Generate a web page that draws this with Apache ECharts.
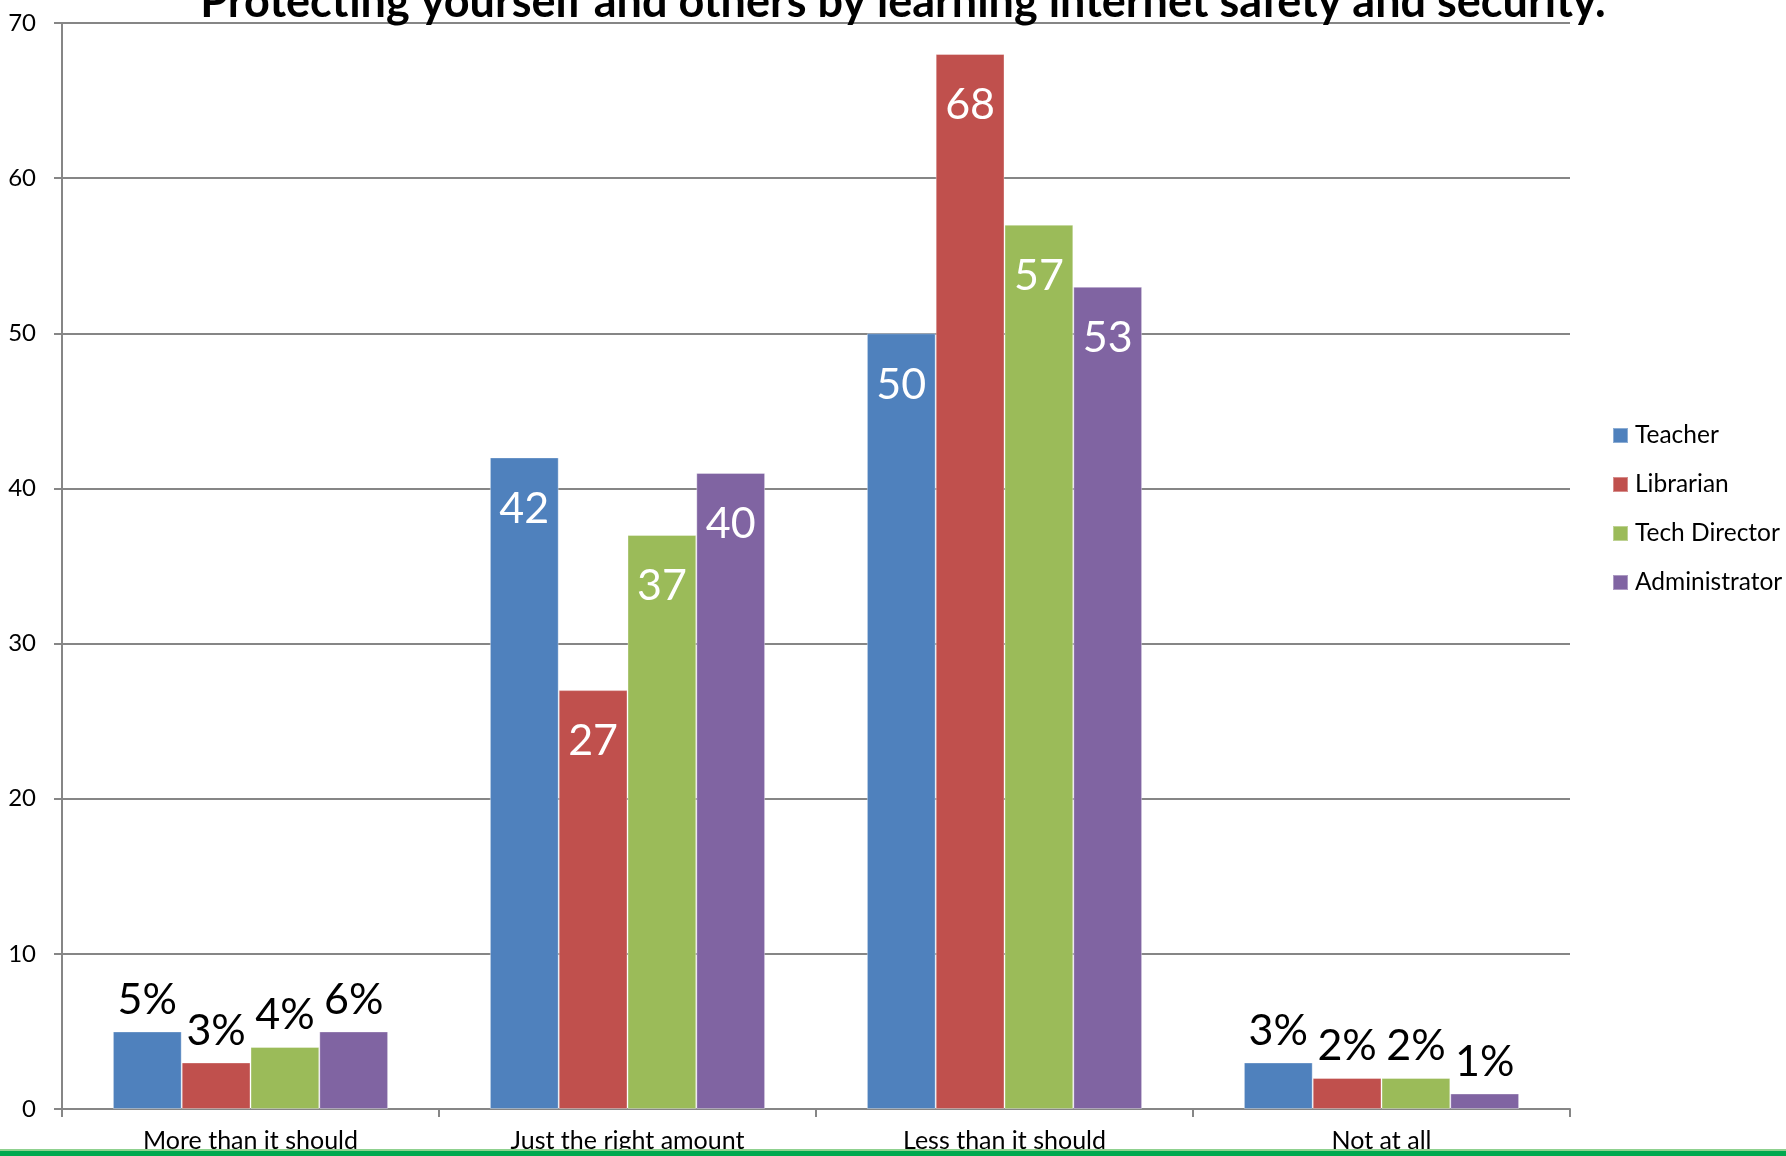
<!DOCTYPE html>
<html>
<head>
<meta charset="utf-8">
<script src="https://cdn.jsdelivr.net/npm/echarts@6/dist/echarts.min.js"></script>
<style>html,body{margin:0;padding:0;background:#fff;}#c{width:1786px;height:1156px;}</style>
</head>
<body>
<div id="c"></div>
<script>
const titleText = 'Protecting yourself and others by learning internet safety and security.';
const categories = ['More than it should', 'Just the right amount', 'Less than it should', 'Not at all'];
const seriesNames = ['Teacher', 'Librarian', 'Tech Director', 'Administrator'];
const teacher = [5, 42, 50, 3];
const librarian = [3, 27, 68, 2];
const techDirector = [4, 37, 57, 2];
const administrator = [5, 41, 53, 1];
const teacherLabels = ['5%', '42', '50', '3%'];
const librarianLabels = ['3%', '27', '68', '2%'];
const techDirectorLabels = ['4%', '37', '57', '2%'];
const administratorLabels = ['6%', '40', '53', '1%'];
const yTicks = [0, 10, 20, 30, 40, 50, 60, 70];

const colors = ['#4f81bd', '#c0504d', '#9bbb59', '#8064a2'];
const FONT = 'Lato, "Open Sans", sans-serif';
const outsideGroups = [0, 3];

function buildData(values, labels) {
  return values.map((v, i) => {
    const outside = outsideGroups.indexOf(i) >= 0;
    return {
      value: v,
      label: outside ? {
        show: true, position: 'top', distance: 10, formatter: labels[i],
        color: '#000', fontSize: 43, fontFamily: FONT
      } : {
        show: true, position: 'insideTop', distance: 30, formatter: labels[i],
        color: '#fff', fontSize: 43, fontFamily: FONT
      }
    };
  });
}

const allValues = [teacher, librarian, techDirector, administrator];
const allLabels = [teacherLabels, librarianLabels, techDirectorLabels, administratorLabels];

const chart = echarts.init(document.getElementById('c'), null, {renderer: 'canvas'});
chart.setOption({
  animation: false,
  color: colors,
  grid: {left: 62, right: 216, top: 23, bottom: 47, containLabel: false},
  legend: {
    orient: 'vertical', left: 1607, top: 418, itemWidth: 15, itemHeight: 15, itemGap: 24,
    icon: 'rect',
    textStyle: {fontSize: 24.5, color: '#000', fontFamily: FONT, padding: [0, 0, 0, 2]},
    data: seriesNames
  },
  xAxis: {
    type: 'category', data: categories,
    axisLine: {lineStyle: {color: '#868686', width: 2}},
    axisTick: {show: true, length: 8, lineStyle: {color: '#868686', width: 2}},
    axisLabel: {fontSize: 25, color: '#000', fontFamily: FONT, margin: 19}
  },
  yAxis: {
    type: 'value', min: yTicks[0], max: yTicks[yTicks.length - 1], interval: 10,
    axisLine: {show: true, lineStyle: {color: '#868686', width: 2}},
    axisTick: {show: true, length: 8, lineStyle: {color: '#868686', width: 2}},
    axisLabel: {fontSize: 24, color: '#000', fontFamily: FONT, margin: 26},
    splitLine: {lineStyle: {color: '#868686', width: 2}}
  },
  series: seriesNames.map((name, k) => ({
    name: name, type: 'bar',
    barGap: '0%', barCategoryGap: '27%',
    data: buildData(allValues[k], allLabels[k]),
    itemStyle: {borderColor: 'rgba(255,255,255,0.35)', borderWidth: 1}
  })),
  graphic: [
    {type: 'text', z: 100, x: 903, y: -20,
     style: {text: titleText, fontSize: 45, fontWeight: 'bold', fontFamily: FONT, fill: '#000', textAlign: 'center', textVerticalAlign: 'top'}},
    {type: 'rect', z: 100, shape: {x: 0, y: 1149, width: 1786, height: 2}, style: {fill: '#8fd18f'}},
    {type: 'rect', z: 100, shape: {x: 0, y: 1151, width: 1786, height: 5}, style: {fill: '#00a84f'}}
  ]
});
</script>
</body>
</html>
